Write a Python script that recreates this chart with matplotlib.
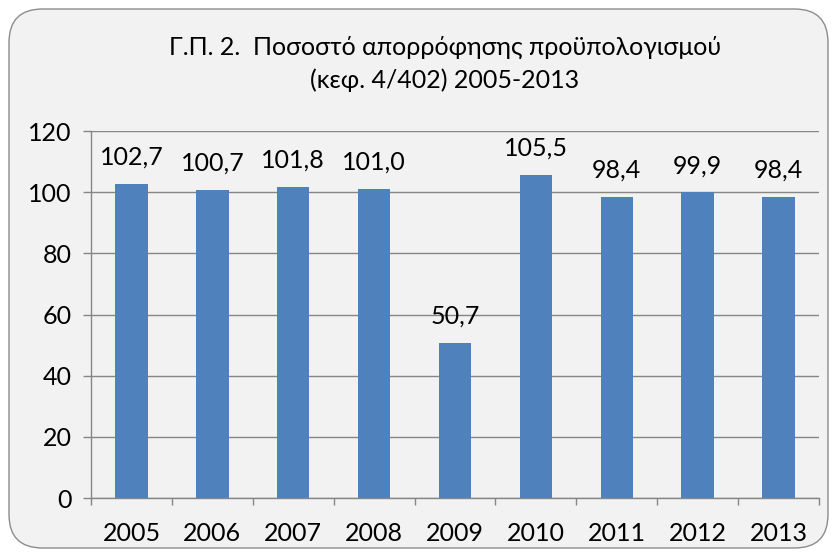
import matplotlib
matplotlib.use("Agg")
import matplotlib.pyplot as plt
from matplotlib.patches import FancyBboxPatch
import numpy as np

plt.rcParams['font.family'] = ['Lato', 'Open Sans', 'DejaVu Sans']

years = ["2005", "2006", "2007", "2008", "2009", "2010", "2011", "2012", "2013"]
values = [102.7, 100.7, 101.8, 101.0, 50.7, 105.5, 98.4, 99.9, 98.4]
labels = ["102,7", "100,7", "101,8", "101,0", "50,7", "105,5", "98,4", "99,9", "98,4"]
yticks = [0, 20, 40, 60, 80, 100, 120]

bg = "#F2F2F2"
bar_color = "#4F81BD"
grid_color = "#868686"
fs = 18

fig = plt.figure(figsize=(8.37, 5.57), dpi=100, facecolor="white")
border = FancyBboxPatch((9/837, 9/557), 1 - 18/837, 1 - 18/557,
                        boxstyle="round,pad=0,rounding_size=0.04",
                        transform=fig.transFigure, facecolor=bg,
                        edgecolor="#8C8C8C", linewidth=1.0, mutation_aspect=837/557,
                        zorder=-10)
fig.patches.append(border)

ax = fig.add_axes([91/837, 59/557, 728/837, 367/557])
ax.set_facecolor(bg)
x = np.arange(len(years))
ax.bar(x, values, width=0.4, color=bar_color, zorder=3)
for xi, v, lab in zip(x, values, labels):
    ax.annotate(lab, (xi, v), xytext=(0, 11), textcoords="offset points",
                ha="center", va="bottom", fontsize=fs, color="black")

ax.set_xlim(-0.5, len(years) - 0.5)
ax.set_ylim(0, 120)
ax.set_yticks(yticks)
ax.set_yticklabels([str(t) for t in yticks], fontsize=fs)
ax.set_xticks(x)
ax.set_xticklabels(years, fontsize=fs)
ax.tick_params(axis="x", which="major", length=0, pad=17)
ax.set_xticks(np.arange(-0.5, len(years), 1.0), minor=True)
ax.tick_params(axis="x", which="minor", length=5, color=grid_color, width=1)
ax.tick_params(axis="y", length=6, color=grid_color, width=1, pad=8)
ax.yaxis.grid(True, color=grid_color, linewidth=1, zorder=0)
ax.set_axisbelow(True)
for s in ["top", "right"]:
    ax.spines[s].set_visible(False)
for s in ["left", "bottom"]:
    ax.spines[s].set_color(grid_color)
    ax.spines[s].set_linewidth(1)
    ax.spines[s].set_zorder(4)

fig.text(445/837, 1 - 47/557, "Γ.Π. 2.  Ποσοστό απορρόφησης προϋπολογισμού",
         ha="center", va="center", fontsize=fs)
fig.text(445/837, 1 - 80/557, "(κεφ. 4/402) 2005-2013",
         ha="center", va="center", fontsize=fs)

fig.savefig("out.png", dpi=100, facecolor="white")
